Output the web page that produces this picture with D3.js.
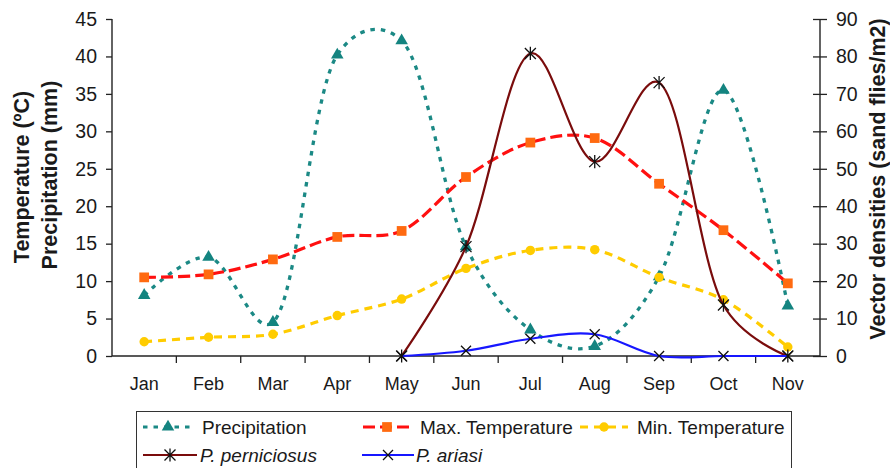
<!DOCTYPE html>
<html>
<head>
<meta charset="utf-8">
<script src="https://cdn.jsdelivr.net/npm/d3@7"></script>
<style>
body { margin: 0; background: #fff; }
text { font-family: "Liberation Sans", Arial, sans-serif; fill: #1a1a1a; }
</style>
</head>
<body>
<script>
// monthly climate + sand fly densities

const months = ['Jan', 'Feb', 'Mar', 'Apr', 'May', 'Jun', 'Jul', 'Aug', 'Sep', 'Oct', 'Nov'];
const precipitation = [8.1, 13.2, 4.5, 40.2, 42.1, 14.6, 3.5, 1.3, 10.6, 35.5, 6.7];
const maxTemp = [10.5, 10.9, 12.9, 15.9, 16.7, 23.9, 28.5, 29.1, 23.0, 16.8, 9.7];
const minTemp = [1.9, 2.5, 2.9, 5.4, 7.6, 11.7, 14.1, 14.2, 10.5, 7.5, 1.2];
const perniciosus = [null, null, null, null, 0, 29.2, 80.8, 51.9, 73.0, 13.6, 0];
const ariasi = [null, null, null, null, 0, 1.4, 4.6, 5.8, 0, 0, 0];

const leftTicks = d3.range(0, 46, 5);
const rightTicks = d3.range(0, 91, 10);

const width = 890, height = 468;
const plot = { left: 112, right: 820, top: 19, bottom: 356 };

const svg = d3.select('body').append('svg')
    .attr('width', width)
    .attr('height', height);

const xBand = d3.scaleBand().domain(months).range([plot.left, plot.right]).padding(0);
const x = d => xBand(d) + xBand.bandwidth() / 2;
const yL = d3.scaleLinear().domain([0, 45]).range([plot.bottom, plot.top]);
const yR = d3.scaleLinear().domain([0, 90]).range([plot.bottom, plot.top]);

// axes
const axisColor = '#222';

const gL = svg.append('g')
    .attr('transform', 'translate(' + plot.left + ',0)')
    .call(d3.axisLeft(yL).tickValues(leftTicks).tickSize(6).tickPadding(9));

const gR = svg.append('g')
    .attr('transform', 'translate(' + plot.right + ',0)')
    .call(d3.axisRight(yR).tickValues(rightTicks).tickSize(7).tickPadding(9));
gR.selectAll('.tick line').attr('x1', -7);

const gX = svg.append('g')
    .attr('transform', 'translate(0,' + plot.bottom + ')')
    .call(d3.axisBottom(xBand).tickSize(0).tickPadding(21));
gX.selectAll('.tick').attr('transform', d => 'translate(' + x(d) + ',0)');

// month boundary ticks
svg.append('g').selectAll('line')
    .data(months.slice(1))
    .enter().append('line')
    .attr('x1', d => xBand(d)).attr('x2', d => xBand(d))
    .attr('y1', plot.bottom).attr('y2', plot.bottom + 7)
    .attr('stroke', axisColor).attr('stroke-width', 1.3);

[gL, gR, gX].forEach(g => {
    g.select('.domain').attr('stroke', axisColor).attr('stroke-width', 1.4);
    g.selectAll('.tick line').attr('stroke', axisColor).attr('stroke-width', 1.3);
    g.selectAll('.tick text')
        .attr('font-size', g === gX ? 18 : 19.5)
        .attr('font-family', '"Liberation Sans", Arial, sans-serif')
        .attr('fill', '#1a1a1a');
});
gL.select('.domain').attr('d', 'M0,' + plot.bottom + 'V' + plot.top);
gR.select('.domain').attr('d', 'M0,' + plot.bottom + 'V' + plot.top);
gX.select('.domain').attr('d', 'M' + plot.left + ',0H' + plot.right);

// axis titles
svg.append('text')
    .attr('transform', 'translate(22,177) rotate(-90)')
    .attr('text-anchor', 'middle').attr('dominant-baseline', 'central')
    .attr('font-size', 21.5).attr('font-weight', 'bold')
    .text('Temperature (ºC)');
svg.append('text')
    .attr('transform', 'translate(50,175) rotate(-90)')
    .attr('text-anchor', 'middle').attr('dominant-baseline', 'central')
    .attr('font-size', 21.5).attr('font-weight', 'bold')
    .text('Precipitation (mm)');
svg.append('text')
    .attr('transform', 'translate(878,179) rotate(-90)')
    .attr('text-anchor', 'middle').attr('dominant-baseline', 'central')
    .attr('font-size', 21.5).attr('font-weight', 'bold')
    .text('Vector densities (sand flies/m2)');

// markers
function asterisk(r) {
    return 'M' + (-r) + ',' + (-r) + 'L' + r + ',' + r +
        'M' + (-r) + ',' + r + 'L' + r + ',' + (-r) +
        'M0,' + (-r * 1.2) + 'L0,' + (r * 1.2);
}
function cross(r) {
    return 'M' + (-r) + ',' + (-r) + 'L' + r + ',' + r +
        'M' + (-r) + ',' + r + 'L' + r + ',' + (-r);
}

const series = [
    { name: 'Precipitation', values: precipitation, y: yL, color: '#1b8985', width: 3.3, dash: '4.5,6',
      marker: { d: d3.symbol(d3.symbolTriangle, 68)(), fill: '#148480', stroke: 'none' } },
    { name: 'Max. Temperature', values: maxTemp, y: yL, color: '#ff1010', width: 3.2, dash: '12,5',
      marker: { d: d3.symbol(d3.symbolSquare, 95)(), fill: '#ff6a10', stroke: 'none' } },
    { name: 'Min. Temperature', values: minTemp, y: yL, color: '#ffcc00', width: 3.2, dash: '8,6',
      marker: { d: d3.symbol(d3.symbolCircle, 70)(), fill: '#ffcc00', stroke: 'none' } },
    { name: 'P. perniciosus', values: perniciosus, y: yR, color: '#7a0c0c', width: 2.2, dash: null,
      marker: { d: asterisk(5.5), fill: 'none', stroke: '#111' } },
    { name: 'P. ariasi', values: ariasi, y: yR, color: '#1717ff', width: 2.2, dash: null,
      marker: { d: cross(5), fill: 'none', stroke: '#111' } }
];

series.forEach(s => {
    const pts = months.map((m, i) => ({ m: m, v: s.values[i] })).filter(d => d.v !== null);
    const line = d3.line()
        .x(d => x(d.m))
        .y(d => s.y(d.v))
        .curve(d3.curveCatmullRom.alpha(0.25));

    svg.append('path')
        .datum(pts)
        .attr('fill', 'none')
        .attr('stroke', s.color)
        .attr('stroke-width', s.width)
        .attr('stroke-dasharray', s.dash)
        .attr('d', line);

    svg.append('g').selectAll('path')
        .data(pts)
        .enter().append('path')
        .attr('transform', d => 'translate(' + x(d.m) + ',' + s.y(d.v) + ')')
        .attr('d', s.marker.d)
        .attr('fill', s.marker.fill)
        .attr('stroke', s.marker.stroke)
        .attr('stroke-width', 1.3);
});

// legend
const legend = svg.append('g');
legend.append('rect')
    .attr('x', 136.5).attr('y', 411.5)
    .attr('width', 655).attr('height', 70)
    .attr('fill', '#fff').attr('stroke', '#333').attr('stroke-width', 1);

const legendPos = [
    { x1: 143, x2: 193, y: 427, tx: 202 },
    { x1: 363, x2: 411, y: 427, tx: 420 },
    { x1: 580, x2: 628, y: 427, tx: 637 },
    { x1: 143, x2: 197, y: 455, tx: 200 },
    { x1: 362, x2: 414, y: 455, tx: 416 }
];

series.forEach((s, i) => {
    const p = legendPos[i];
    legend.append('line')
        .attr('x1', p.x1).attr('x2', p.x2)
        .attr('y1', p.y).attr('y2', p.y)
        .attr('stroke', s.color)
        .attr('stroke-width', i < 3 ? 3 : 2.2)
        .attr('stroke-dasharray', s.dash);
    legend.append('path')
        .attr('transform', 'translate(' + ((p.x1 + p.x2) / 2) + ',' + p.y + ')')
        .attr('d', s.marker.d)
        .attr('fill', s.marker.fill)
        .attr('stroke', s.marker.stroke)
        .attr('stroke-width', 1.3);
    legend.append('text')
        .attr('x', p.tx).attr('y', p.y)
        .attr('dominant-baseline', 'central')
        .attr('font-size', 19)
        .attr('font-style', i >= 3 ? 'italic' : null)
        .text(s.name);
});
</script>
</body>
</html>
